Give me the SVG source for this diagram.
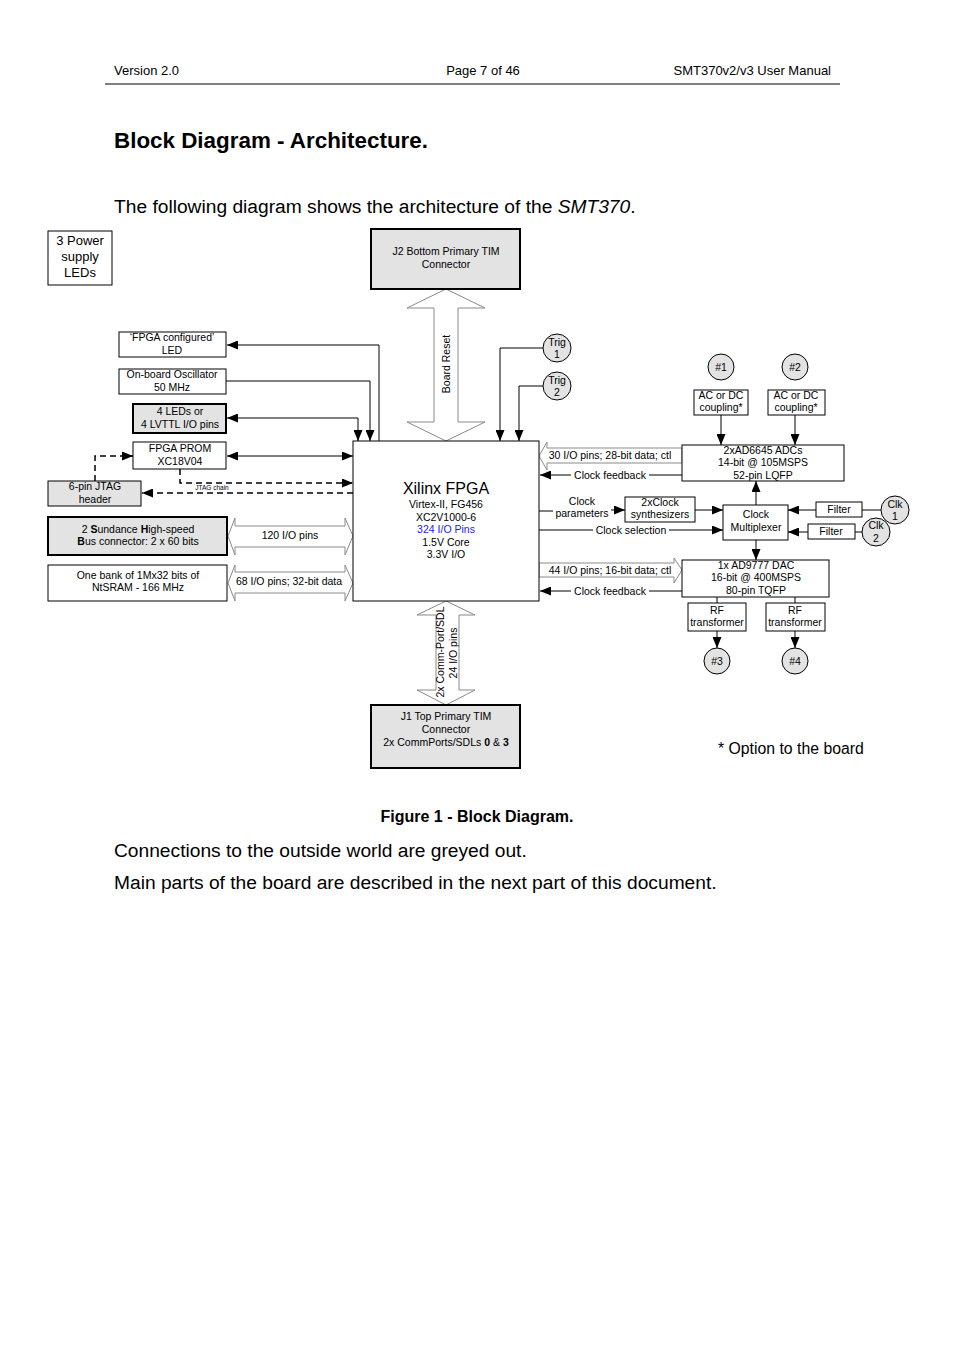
<svg xmlns="http://www.w3.org/2000/svg" width="954" height="1351" viewBox="0 0 954 1351">
<defs>
<style>
text{font-family:"Liberation Sans",Arial,sans-serif;fill:#000}
.box{fill:#fff;stroke:#000;stroke-width:1}
.grey{fill:#e3e3e3;stroke:#000;stroke-width:1}
.thick{stroke-width:2}
.ln{fill:none;stroke:#000;stroke-width:1}
.dash{fill:none;stroke:#000;stroke-width:1.5;stroke-dasharray:6,4}
.hollow{fill:#fff;stroke:#8a8a8a;stroke-width:1}
.t10{font-size:10.5px;text-anchor:middle}
.t105{font-size:10.5px;text-anchor:middle}
.bg{fill:#fff}
</style>
<marker id="ah" viewBox="0 0 11 9" markerWidth="11" markerHeight="9" refX="11" refY="4.5" orient="auto-start-reverse" markerUnits="userSpaceOnUse">
<path d="M0,0 L11,4.5 L0,9 z" fill="#000"/>
</marker>
</defs>
<rect width="954" height="1351" fill="#fff"/>

<g id="header">
<text x="114" y="75" font-size="13">Version 2.0</text>
<text x="483" y="75" font-size="13" text-anchor="middle">Page 7 of 46</text>
<text x="831" y="75" font-size="13" text-anchor="end">SMT370v2/v3 User Manual</text>
<line x1="105" y1="84" x2="840" y2="84" stroke="#000" stroke-width="1"/>
<text x="114" y="148" font-size="22.4" font-weight="bold">Block Diagram - Architecture.</text>
<text x="114" y="213" font-size="19.2">The following diagram shows the architecture of the <tspan font-style="italic">SMT370</tspan>.</text>
</g>

<g id="connectors">
<path class="ln" d="M379,441 V345 H227" marker-end="url(#ah)"/>
<path class="ln" d="M226,381 H370 V441" marker-end="url(#ah)"/>
<path class="ln" d="M227,418 H358 V441" marker-start="url(#ah)" marker-end="url(#ah)"/>
<path class="ln" d="M227,456 H353" marker-start="url(#ah)" marker-end="url(#ah)"/>
<path class="dash" d="M180,469 V483 H353" marker-end="url(#ah)"/>
<path class="dash" d="M353,493 H142" marker-end="url(#ah)"/>
<path class="dash" d="M95,481 V456 H133" marker-end="url(#ah)"/>
<path class="ln" d="M543,348 H500 V441" marker-end="url(#ah)"/>
<path class="ln" d="M543,386 H519 V441" marker-end="url(#ah)"/>
<path class="ln" d="M721,415 V445" marker-end="url(#ah)"/>
<path class="ln" d="M795,415 V445" marker-end="url(#ah)"/>
<path class="ln" d="M682,475 H540" marker-end="url(#ah)"/>
<path class="ln" d="M539,511 H553"/>
<path class="ln" d="M611,510 H625" marker-end="url(#ah)"/>
<path class="ln" d="M695,510 H723" marker-end="url(#ah)"/>
<path class="ln" d="M539,530 H723" marker-end="url(#ah)"/>
<path class="ln" d="M756,505 V481" marker-end="url(#ah)"/>
<path class="ln" d="M756,540 V560" marker-end="url(#ah)"/>
<path class="ln" d="M816,510 H788" marker-end="url(#ah)"/>
<path class="ln" d="M881,510 H862"/>
<path class="ln" d="M808,532 H788" marker-end="url(#ah)"/>
<path class="ln" d="M863,532 H855"/>
<path class="ln" d="M682,591 H540" marker-end="url(#ah)"/>
<path class="ln" d="M717,597 V603 M795,597 V603"/>
<path class="ln" d="M717,631 V648" marker-end="url(#ah)"/>
<path class="ln" d="M795,631 V648" marker-end="url(#ah)"/>

<polygon class="hollow" points="446,289 485,308 458,308 458,422 485,422 446,441 407,422 434,422 434,308 407,308"/>
<polygon class="hollow" points="446,601 475,615 459,615 459,690 475,690 446,705 417,690 436,690 436,615 417,615"/>
<polygon class="hollow" points="228,536 235,518 235,526 345,526 345,518 353,536 345,555 345,547 235,547 235,555"/>
<polygon class="hollow" points="228,583 235,565 235,572 345,572 345,565 353,583 345,601 345,593 235,593 235,601"/>
<polygon class="hollow" points="539,456 547,442 547,448 682,448 682,463 547,463 547,470"/>
<polygon class="hollow" points="539,563 674,563 674,558 682,570 674,583 674,577 539,577"/>

<text class="t10" transform="translate(450,364) rotate(-90)">Board Reset</text>
<text class="t10" transform="translate(444,652) rotate(-90)">2x Comm-Port/SDL</text>
<text class="t10" transform="translate(457,653) rotate(-90)">24 I/O pins</text>
<text class="t10" x="290" y="539">120 I/O pins</text>
<text class="t10" x="289" y="585">68 I/O pins; 32-bit data</text>
<text class="t10" x="610" y="459">30 I/O pins; 28-bit data; ctl</text>
<text class="t10" x="610" y="574">44 I/O pins; 16-bit data; ctl</text>
<rect class="bg" x="571" y="468" width="78" height="12"/>
<text class="t10" x="610" y="479">Clock feedback</text>
<rect class="bg" x="571" y="584" width="78" height="12"/>
<text class="t10" x="610" y="595">Clock feedback</text>
<rect class="bg" x="593" y="524" width="76" height="12"/>
<text class="t10" x="631" y="534">Clock selection</text>
<text class="t10" x="582" y="505">Clock</text>
<text class="t10" x="582" y="517">parameters</text>
<text x="212" y="490" font-size="6.5" text-anchor="middle">JTAG chain</text>
</g>

<g id="power-leds">
<rect class="box" x="48" y="231" width="64" height="54"/>
<text x="80" y="245" font-size="13" text-anchor="middle">3 Power</text>
<text x="80" y="261" font-size="13" text-anchor="middle">supply</text>
<text x="80" y="277" font-size="13" text-anchor="middle">LEDs</text>
</g>

<g id="j2">
<rect class="grey thick" x="371" y="229" width="149" height="60"/>
<text class="t105" x="446" y="255">J2 Bottom Primary TIM</text>
<text class="t105" x="446" y="268">Connector</text>
</g>

<g id="fpga-led">
<rect class="box" x="119" y="332" width="107" height="25"/>
<text class="t10" x="172" y="341">‘FPGA configured’</text>
<text class="t10" x="172" y="354">LED</text>
</g>

<g id="oscillator">
<rect class="box" x="119" y="369" width="107" height="25"/>
<text class="t10" x="172" y="378">On-board Oscillator</text>
<text class="t10" x="172" y="391">50 MHz</text>
</g>

<g id="leds4">
<rect class="grey thick" x="133" y="404" width="93" height="29"/>
<text class="t10" x="180" y="415">4 LEDs or</text>
<text class="t10" x="180" y="428">4 LVTTL I/O pins</text>
</g>

<g id="prom">
<rect class="box" x="133" y="442" width="93" height="27"/>
<text class="t10" x="180" y="452">FPGA PROM</text>
<text class="t10" x="180" y="465">XC18V04</text>
</g>

<g id="jtag">
<rect class="grey" x="48" y="481" width="93" height="25"/>
<text class="t10" x="95" y="490">6-pin JTAG</text>
<text class="t10" x="95" y="503">header</text>
</g>

<g id="shb">
<rect class="grey thick" x="48" y="517" width="179" height="38"/>
<text class="t10" x="138" y="533">2 <tspan font-weight="bold">S</tspan>undance <tspan font-weight="bold">H</tspan>igh-speed</text>
<text class="t10" x="138" y="545"><tspan font-weight="bold">B</tspan>us connector: 2 x 60 bits</text>
</g>

<g id="sram">
<rect class="box" x="48" y="565" width="179" height="36"/>
<text class="t10" x="138" y="579">One bank of 1Mx32  bits of</text>
<text class="t10" x="138" y="591">NtSRAM - 166 MHz</text>
</g>

<g id="fpga">
<rect class="box" x="353" y="441" width="186" height="160"/>
<text x="446" y="494" font-size="16" text-anchor="middle">Xilinx FPGA</text>
<text class="t10" x="446" y="508">Virtex-II, FG456</text>
<text class="t10" x="446" y="521">XC2V1000-6</text>
<text class="t10" x="446" y="533" style="fill:#1a1aff">324 I/O Pins</text>
<text class="t10" x="446" y="546">1.5V Core</text>
<text class="t10" x="446" y="558">3.3V I/O</text>
</g>

<g id="trig1">
<circle cx="557" cy="348" r="14" fill="#e3e3e3" stroke="#000"/>
<text class="t10" x="557" y="346">Trig</text>
<text class="t10" x="557" y="358">1</text>
</g>
<g id="trig2">
<circle cx="557" cy="386" r="14" fill="#e3e3e3" stroke="#000"/>
<text class="t10" x="557" y="384">Trig</text>
<text class="t10" x="557" y="396">2</text>
</g>

<g id="in1">
<circle cx="721" cy="367" r="13" fill="#e3e3e3" stroke="#000"/>
<text class="t10" x="721" y="371">#1</text>
</g>
<g id="in2">
<circle cx="795" cy="367" r="13" fill="#e3e3e3" stroke="#000"/>
<text class="t10" x="795" y="371">#2</text>
</g>
<g id="coupling1">
<rect class="box" x="694" y="390" width="54" height="25"/>
<text class="t10" x="721" y="399">AC or DC</text>
<text class="t10" x="721" y="411">coupling*</text>
</g>
<g id="coupling2">
<rect class="box" x="768" y="390" width="57" height="25"/>
<text class="t10" x="796" y="399">AC or DC</text>
<text class="t10" x="796" y="411">coupling*</text>
</g>

<g id="adc">
<rect class="box" x="682" y="445" width="162" height="36"/>
<text class="t10" x="763" y="454">2xAD6645 ADCs</text>
<text class="t10" x="763" y="466">14-bit @ 105MSPS</text>
<text class="t10" x="763" y="479">52-pin LQFP</text>
</g>

<g id="synth">
<rect class="box" x="625" y="497" width="70" height="25"/>
<text class="t10" x="660" y="506">2xClock</text>
<text class="t10" x="660" y="518">synthesizers</text>
</g>

<g id="mux">
<rect class="box" x="723" y="505" width="65" height="35"/>
<text class="t10" x="756" y="518">Clock</text>
<text class="t10" x="756" y="531">Multiplexer</text>
</g>

<g id="filter1">
<rect class="box" x="816" y="502" width="46" height="15"/>
<text class="t10" x="839" y="513">Filter</text>
</g>
<g id="filter2">
<rect class="box" x="808" y="524" width="47" height="15"/>
<text class="t10" x="831" y="535">Filter</text>
</g>
<g id="clk1">
<circle cx="895" cy="510" r="14" fill="#e3e3e3" stroke="#000"/>
<text class="t10" x="895" y="508">Clk</text>
<text class="t10" x="895" y="520">1</text>
</g>
<g id="clk2">
<circle cx="876" cy="532" r="14" fill="#e3e3e3" stroke="#000"/>
<text class="t10" x="876" y="529">Clk</text>
<text class="t10" x="876" y="542">2</text>
</g>

<g id="dac">
<rect class="box" x="682" y="560" width="147" height="37"/>
<text class="t10" x="756" y="569">1x AD9777 DAC</text>
<text class="t10" x="756" y="581">16-bit @ 400MSPS</text>
<text class="t10" x="756" y="594">80-pin TQFP</text>
</g>

<g id="rf1">
<rect class="box" x="688" y="603" width="58" height="28"/>
<text class="t10" x="717" y="614">RF</text>
<text class="t10" x="717" y="626">transformer</text>
</g>
<g id="rf2">
<rect class="box" x="766" y="603" width="59" height="28"/>
<text class="t10" x="795" y="614">RF</text>
<text class="t10" x="795" y="626">transformer</text>
</g>
<g id="out3">
<circle cx="717" cy="661" r="13" fill="#e3e3e3" stroke="#000"/>
<text class="t10" x="717" y="665">#3</text>
</g>
<g id="out4">
<circle cx="795" cy="661" r="13" fill="#e3e3e3" stroke="#000"/>
<text class="t10" x="795" y="665">#4</text>
</g>

<g id="j1">
<rect class="grey thick" x="371" y="705" width="149" height="63"/>
<text class="t105" x="446" y="720">J1 Top Primary TIM</text>
<text class="t105" x="446" y="733">Connector</text>
<text class="t105" x="446" y="746">2x CommPorts/SDLs <tspan font-weight="bold">0</tspan> &amp; <tspan font-weight="bold">3</tspan></text>
</g>

<g id="footer">
<text x="718" y="754" font-size="15.8">* Option to the board</text>
<text x="477" y="822" font-size="16" font-weight="bold" text-anchor="middle">Figure 1 - Block Diagram.</text>
<text x="114" y="857" font-size="19.2">Connections to the outside world are greyed out.</text>
<text x="114" y="889" font-size="19.2">Main parts of the board are described in the next part of this document.</text>
</g>
</svg>
